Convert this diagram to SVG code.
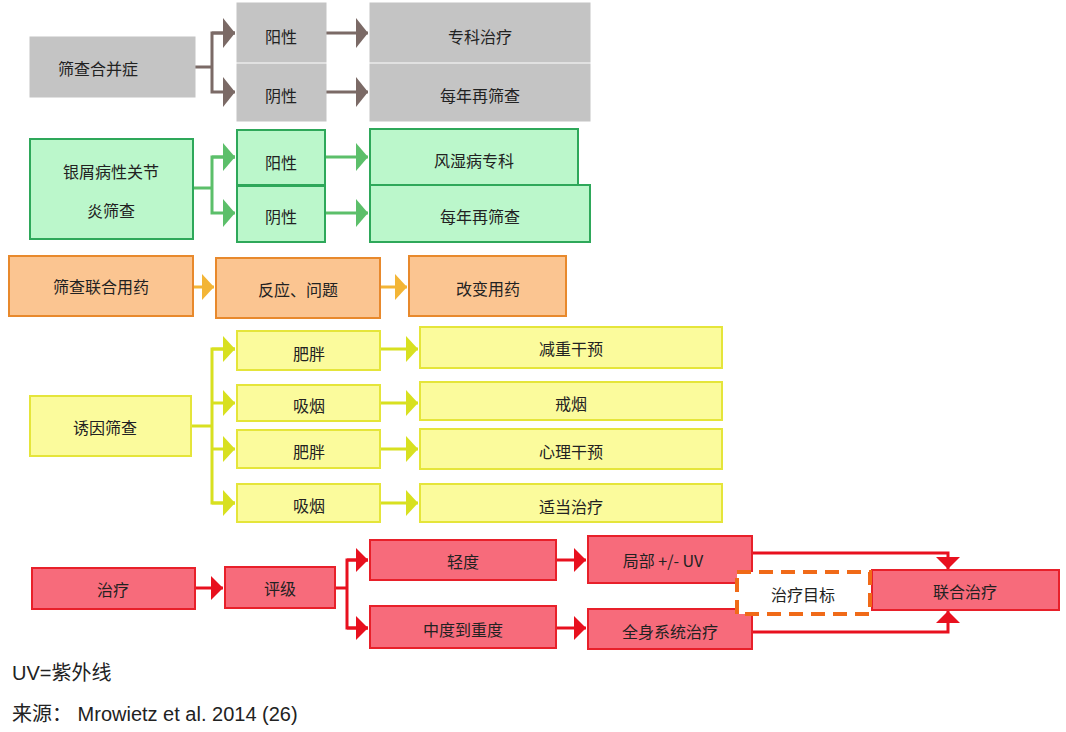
<svg xmlns="http://www.w3.org/2000/svg" width="1066" height="732" viewBox="0 0 1066 732">
<style>
text{font-family:"Noto Sans CJK SC","Liberation Sans",sans-serif;font-size:16px;fill:#222;text-anchor:middle;dominant-baseline:central}
.note{font-family:"Liberation Sans","Noto Sans CJK SC",sans-serif;font-size:20px;text-anchor:start}
.g rect{fill:#c4c4c4;stroke:#c4c4c4}
.gr rect{fill:#bbf7cb;stroke:#2ea85a;stroke-width:2}
.o rect{fill:#fbc591;stroke:#e8892c;stroke-width:2}
.y rect{fill:#fbfb9c;stroke:#e5e53a;stroke-width:2}
.r rect{fill:#f76b7b;stroke:#e8202a;stroke-width:2}
.c path{fill:none;stroke-width:3}
</style>
<defs>
<marker id="ag" markerUnits="userSpaceOnUse" markerWidth="14" markerHeight="30" refX="12" refY="15" orient="auto"><path d="M0,0L12,15L0,30z" fill="#7b6a66"/></marker>
<marker id="agr" markerUnits="userSpaceOnUse" markerWidth="14" markerHeight="28" refX="12" refY="14" orient="auto"><path d="M0,0L12,14L0,28z" fill="#5cbf6a"/></marker>
<marker id="ao" markerUnits="userSpaceOnUse" markerWidth="14" markerHeight="26" refX="12" refY="13" orient="auto"><path d="M0,0L12,13L0,26z" fill="#f3b536"/></marker>
<marker id="ay" markerUnits="userSpaceOnUse" markerWidth="14" markerHeight="26" refX="12" refY="13" orient="auto"><path d="M0,0L12,13L0,26z" fill="#d8e020"/></marker>
<marker id="ar" markerUnits="userSpaceOnUse" markerWidth="14" markerHeight="24" refX="12" refY="12" orient="auto"><path d="M0,0L12,12L0,24z" fill="#e8101e"/></marker>
</defs>
<g class="c" id="connectors">
<path d="M195,67H212V33H235M212,67V92H235" stroke="#7b6a66" marker-end="url(#ag)"/>
<path d="M212,33H235" stroke="#7b6a66" marker-end="url(#ag)"/>
<path d="M326,33H368" stroke="#7b6a66" marker-end="url(#ag)"/>
<path d="M326,92H368" stroke="#7b6a66" marker-end="url(#ag)"/>
<path d="M193,188H212V157H235M212,188V213H235" stroke="#5cbf6a" marker-end="url(#agr)"/>
<path d="M212,157H235" stroke="#5cbf6a" marker-end="url(#agr)"/>
<path d="M325,157H368" stroke="#5cbf6a" marker-end="url(#agr)"/>
<path d="M325,213H368" stroke="#5cbf6a" marker-end="url(#agr)"/>
<path d="M193,287H214" stroke="#f3b536" marker-end="url(#ao)"/>
<path d="M380,287H407" stroke="#f3b536" marker-end="url(#ao)"/>
<path d="M191,426H212V349H235M212,426V503H235" stroke="#d8e020"/>
<path d="M212,349H235" stroke="#d8e020" marker-end="url(#ay)"/>
<path d="M212,403H235" stroke="#d8e020" marker-end="url(#ay)"/>
<path d="M212,449H235" stroke="#d8e020" marker-end="url(#ay)"/>
<path d="M212,503H235" stroke="#d8e020" marker-end="url(#ay)"/>
<path d="M380,349H418" stroke="#d8e020" marker-end="url(#ay)"/>
<path d="M380,403H418" stroke="#d8e020" marker-end="url(#ay)"/>
<path d="M380,449H418" stroke="#d8e020" marker-end="url(#ay)"/>
<path d="M380,503H418" stroke="#d8e020" marker-end="url(#ay)"/>
<path d="M195,588H223" stroke="#e8101e" marker-end="url(#ar)"/>
<path d="M335,588H347V560H368M347,588V628H368" stroke="#e8101e"/>
<path d="M347,560H368" stroke="#e8101e" marker-end="url(#ar)"/>
<path d="M347,628H368" stroke="#e8101e" marker-end="url(#ar)"/>
<path d="M556,560H586" stroke="#e8101e" marker-end="url(#ar)"/>
<path d="M556,628H586" stroke="#e8101e" marker-end="url(#ar)"/>
<path d="M752,553H948V569" stroke="#e8101e" marker-end="url(#ar)"/>
<path d="M752,632H948V611" stroke="#e8101e" marker-end="url(#ar)"/>
</g>
<g class="g">
<g id="n1"><rect x="30" y="37" width="165" height="60"/><text x="98" y="68">筛查合并症</text></g>
<g id="n2"><rect x="237" y="3" width="89" height="59"/><text x="281" y="36">阳性</text></g>
<g id="n3"><rect x="237" y="64" width="89" height="57"/><text x="281" y="95">阴性</text></g>
<g id="n4"><rect x="370" y="3" width="220" height="59"/><text x="480" y="36">专科治疗</text></g>
<g id="n5"><rect x="370" y="64" width="220" height="57"/><text x="480" y="95">每年再筛查</text></g>
</g>
<g class="gr">
<g id="n6"><rect x="30" y="139" width="163" height="100"/><text x="111" y="171">银屑病性关节</text><text x="111" y="210">炎筛查</text></g>
<g id="n7"><rect x="237" y="130" width="88" height="55"/><text x="281" y="162">阳性</text></g>
<g id="n8"><rect x="237" y="186" width="88" height="56"/><text x="281" y="216">阴性</text></g>
<g id="n9"><rect x="370" y="129" width="208" height="56"/><text x="474" y="160">风湿病专科</text></g>
<g id="n10"><rect x="370" y="185" width="220" height="57"/><text x="480" y="216">每年再筛查</text></g>
</g>
<g class="o">
<g id="n11"><rect x="9" y="256" width="184" height="60"/><text x="101" y="286">筛查联合用药</text></g>
<g id="n12"><rect x="216" y="258" width="164" height="60"/><text x="298" y="289">反应、问题</text></g>
<g id="n13"><rect x="409" y="256" width="157" height="60"/><text x="488" y="288">改变用药</text></g>
</g>
<g class="y">
<g id="n14"><rect x="30" y="396" width="161" height="60"/><text x="105" y="427">诱因筛查</text></g>
<g id="n15"><rect x="237" y="331" width="143" height="39"/><text x="309" y="353">肥胖</text></g>
<g id="n16"><rect x="237" y="385" width="143" height="36"/><text x="309" y="405">吸烟</text></g>
<g id="n17"><rect x="237" y="430" width="143" height="38"/><text x="309" y="451">肥胖</text></g>
<g id="n18"><rect x="237" y="484" width="143" height="38"/><text x="309" y="505">吸烟</text></g>
<g id="n19"><rect x="420" y="327" width="302" height="41"/><text x="571" y="348">减重干预</text></g>
<g id="n20"><rect x="420" y="382" width="302" height="38"/><text x="571" y="403">戒烟</text></g>
<g id="n21"><rect x="420" y="429" width="302" height="40"/><text x="571" y="451">心理干预</text></g>
<g id="n22"><rect x="420" y="484" width="302" height="38"/><text x="571" y="506">适当治疗</text></g>
</g>
<g class="r">
<g id="n23"><rect x="32" y="568" width="163" height="41"/><text x="113" y="589">治疗</text></g>
<g id="n24"><rect x="225" y="567" width="110" height="41"/><text x="280" y="588">评级</text></g>
<g id="n25"><rect x="370" y="540" width="186" height="40"/><text x="463" y="561">轻度</text></g>
<g id="n26"><rect x="370" y="606" width="186" height="42"/><text x="463" y="629">中度到重度</text></g>
<g id="n27"><rect x="588" y="536" width="164" height="47"/><text x="663" y="560">局部  +/- UV</text></g>
<g id="n28"><rect x="588" y="609" width="164" height="40"/><text x="670" y="631">全身系统治疗</text></g>
<g id="n30"><rect x="872" y="570" width="187" height="40"/><text x="965" y="591">联合治疗</text></g>
</g>
<g id="n29"><rect x="737" y="572" width="133" height="42" fill="#fff" stroke="#f06a18" stroke-width="4" stroke-dasharray="14,8"/><text x="803" y="594">治疗目标</text></g>
<g id="notes">
<text x="12" y="673" class="note">UV=紫外线</text>
<text x="12" y="714" class="note">来源： Mrowietz et al. 2014 (26)</text>
</g>
</svg>
